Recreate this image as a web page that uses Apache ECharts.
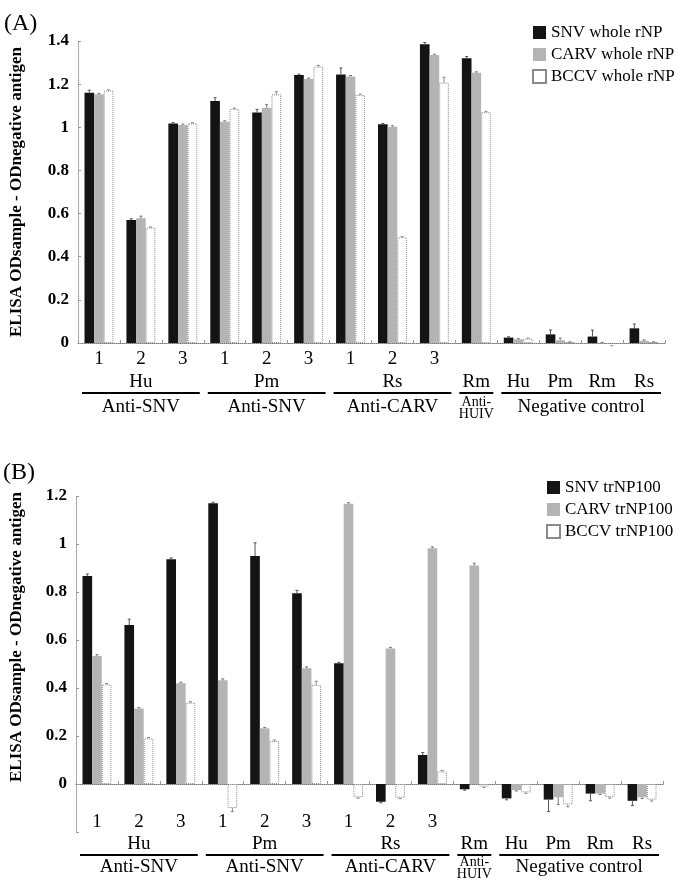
<!DOCTYPE html>
<html><head><meta charset="utf-8">
<script src="https://cdn.jsdelivr.net/npm/echarts@6/dist/echarts.min.js"></script>
<style>html,body{margin:0;padding:0;background:#fff}#c{width:678px;height:883px}</style>
</head><body><div id="c"></div>
<script>
// ---------- data ----------
const categories = ['1','2','3','1','2','3','1','2','3','','','','',''];
const subLabels = ['Hu','Pm','Rs','Rm','Hu','Pm','Rm','Rs'];
const subLabelSlots = [1,4,7,9,10,11,12,13];
const groupLabels = ['Anti-SNV','Anti-SNV','Anti-CARV','Anti-\nHUIV','Negative control'];
const groupStart = [0,3,6,9,10];
const groupEnd = [2,5,8,9,13];

const yTicksA = [0, 1.4, 0.2];      // min, max, step
const yTicksB = [-0.2, 1.2, 0.2];

const namesA = ['SNV whole rNP','CARV whole rNP','BCCV whole rNP'];
const snvA  = [1.16,0.57,1.018,1.122,1.068,1.242,1.245,1.014,1.385,1.32,0.025,0.04,0.03,0.068];
const carvA = [1.153,0.578,1.011,1.026,1.091,1.224,1.236,1.003,1.335,1.253,0.017,0.013,0.0,0.01];
const bccvA = [1.17,0.535,1.018,1.085,1.153,1.281,1.15,0.49,1.207,1.07,0.02,0.003,-0.01,0.003];
const snvAErr  = [0.012,0.006,0.004,0.015,0.015,0.004,0.03,0.004,0.008,0.008,0.004,0.02,0.03,0.02];
const carvAErr = [0.004,0.01,0.004,0.004,0.015,0.004,0.004,0.004,0.004,0.004,0.003,0.01,0.003,0.004];
const bccvAErr = [0.004,0.003,0.003,0.004,0.012,0.006,0.004,0.003,0.025,0.004,0.003,0.003,0.003,0.003];

const namesB = ['SNV trNP100','CARV trNP100','BCCV trNP100'];
const snvB  = [0.867,0.662,0.936,1.17,0.95,0.795,0.503,-0.074,0.121,-0.022,-0.06,-0.065,-0.04,-0.07];
const carvB = [0.533,0.314,0.42,0.432,0.232,0.482,1.168,0.565,0.982,0.91,-0.025,-0.055,-0.04,-0.055];
const bccvB = [0.415,0.19,0.339,-0.1,0.179,0.413,-0.055,-0.057,0.052,-0.011,-0.035,-0.085,-0.055,-0.065];
const snvBErr  = [0.008,0.025,0.006,0.004,0.055,0.012,0.004,0.004,0.01,0.004,0.006,0.05,0.03,0.02];
const carvBErr = [0.006,0.004,0.004,0.006,0.004,0.006,0.004,0.004,0.006,0.01,0.004,0.03,0.004,0.006];
const bccvBErr = [0.004,0.004,0.004,0.015,0.004,0.015,0.004,0.004,0.004,0.004,0.004,0.01,0.004,0.006];

// ---------- styling ----------
const FONT = '"Liberation Serif", "Times New Roman", serif';
const barStyles = [
  {color:'#141414'},
  {color:'#b4b4b4'},
  {color:'#ffffff', borderColor:'#8a8a8a', borderWidth:1, borderType:'dotted'}
];
const errColors = ['#555','#777','#888'];
const CAT_GAP = 0.31;

const chart = echarts.init(document.getElementById('c'));

function buildPanel(g, names, vals, errs, yt, cfg) {
  const xAxis = {
    type:'category', gridIndex:g, data:categories,
    axisLine:{show:true, onZero:true, lineStyle:{color:'#777', width:1, type:'dotted'}},
    axisTick:{show:true, length:3, inside:true, lineStyle:{color:'#999'}},
    axisLabel:{interval:0, margin:cfg.numMargin, fontSize:19, fontFamily:FONT, color:'#000'},
    splitLine:{show:false}
  };
  const yAxis = {
    type:'value', gridIndex:g, min:yt[0], max:yt[1], interval:yt[2],
    name:'ELISA ODsample - ODnegative antigen', nameLocation:'middle', nameGap:cfg.nameGap,
    nameTextStyle:{fontSize:17, fontWeight:'bold', fontFamily:FONT, color:'#000', padding:cfg.namePad},
    axisLine:{show:true, lineStyle:{color:'#999', type:'dotted'}},
    axisTick:{show:true, length:3, inside:true, lineStyle:{color:'#999'}},
    axisLabel:{fontSize:17, fontWeight:'bold', fontFamily:FONT, color:'#000', margin:9,
      formatter:(v)=> v < -1e-9 ? '' : String(Math.round(v*10)/10)},
    splitLine:{show:false}
  };
  const series = [];
  for (let s=0; s<3; s++) {
    series.push({
      type:'bar', name:names[s], xAxisIndex:g, yAxisIndex:g, data:vals[s],
      barGap:'0%', barCategoryGap:(CAT_GAP*100)+'%',
      itemStyle:barStyles[s], emphasis:{disabled:true}, silent:true
    });
  }
  const errData = [];
  for (let s=0; s<3; s++) for (let i=0; i<categories.length; i++) errData.push([i, vals[s][i], errs[s][i], s]);
  series.push({
    type:'custom', xAxisIndex:g, yAxisIndex:g, data:errData, silent:true, clip:false, z:5,
    renderItem:(params, api)=>{
      const i = api.value(0), v = api.value(1), e = api.value(2), s = api.value(3);
      const band = api.size([1,0])[0];
      const bw = band*(1-CAT_GAP)/3;
      const c = api.coord([i, v]);
      const xc = c[0] + (s-1)*bw;
      const sign = v < 0 ? -1 : 1;
      const t = api.coord([i, v + sign*e]);
      return {type:'group', children:[
        {type:'line', shape:{x1:xc, y1:c[1], x2:xc, y2:t[1]}, style:{stroke:errColors[s], lineWidth:1}},
        {type:'line', shape:{x1:xc-1.5, y1:t[1], x2:xc+1.5, y2:t[1]}, style:{stroke:errColors[s], lineWidth:1}}
      ]};
    }
  });
  series.push({
    type:'custom', xAxisIndex:g, yAxisIndex:g, data:subLabelSlots.map(s=>[s,0]), silent:true, clip:false,
    renderItem:(params, api)=>{
      const p = api.coord([api.value(0), 0]);
      return {type:'text', style:{text:subLabels[params.dataIndex], x:p[0], y:p[1]+cfg.subOff,
        align:'center', verticalAlign:'middle', fontSize:19, fontFamily:FONT, fill:'#000'}};
    }
  });
  series.push({
    type:'custom', xAxisIndex:g, yAxisIndex:g, data:groupStart.map(s=>[s,0]), silent:true, clip:false,
    renderItem:(params, api)=>{
      const k = params.dataIndex;
      const a = api.coord([groupStart[k], 0]);
      const b = api.coord([groupEnd[k], 0]);
      const band = api.size([1,0])[0];
      const two = groupLabels[k].indexOf('\n') >= 0;
      const y0 = a[1];
      return {type:'group', children:[
        {type:'line', shape:{x1:a[0]-band/2+4, y1:y0+cfg.lineOff, x2:b[0]+band/2-4, y2:y0+cfg.lineOff},
          style:{stroke:'#000', lineWidth:2}},
        {type:'text', style:{text:groupLabels[k], x:(a[0]+b[0])/2, y:y0+cfg.groupOff+(two?1:0),
          align:'center', verticalAlign:'middle', fontSize:two?14:19, lineHeight:two?12:22,
          fontFamily:FONT, fill:'#000'}}
      ]};
    }
  });
  return {xAxis, yAxis, series};
}

const pA = buildPanel(0, namesA, [snvA, carvA, bccvA], [snvAErr, carvAErr, bccvAErr], yTicksA,
  {numMargin:7, subOff:39, lineOff:50, groupOff:64, nameGap:53, namePad:[0,0,0,0]});
const pB = buildPanel(1, namesB, [snvB, carvB, bccvB], [snvBErr, carvBErr, bccvBErr], yTicksB,
  {numMargin:-19, subOff:60, lineOff:71, groupOff:83, nameGap:51, namePad:[0,0,0,54]});

const legendBase = {
  orient:'vertical', icon:'rect', itemWidth:13, itemHeight:13, itemGap:5, selectedMode:false,
  textStyle:{fontSize:17, fontFamily:FONT, color:'#000'}, padding:0
};

chart.setOption({
  animation:false,
  backgroundColor:'#fff',
  title:[
    {text:'(A)', left:4, top:12, padding:0, textStyle:{fontSize:24, fontWeight:'normal', fontFamily:FONT, color:'#000'}},
    {text:'(B)', left:3, top:461, padding:0, textStyle:{fontSize:24, fontWeight:'normal', fontFamily:FONT, color:'#000'}}
  ],
  legend:[
    Object.assign({}, legendBase, {data:namesA, left:532, top:24}),
    Object.assign({}, legendBase, {data:namesB, left:546, top:479})
  ],
  grid:[
    {left:77, top:41, width:588, height:302},
    {left:74, top:496, width:589, height:336}
  ],
  xAxis:[pA.xAxis, pB.xAxis],
  yAxis:[pA.yAxis, pB.yAxis],
  series:[...pA.series, ...pB.series]
});
</script></body></html>
